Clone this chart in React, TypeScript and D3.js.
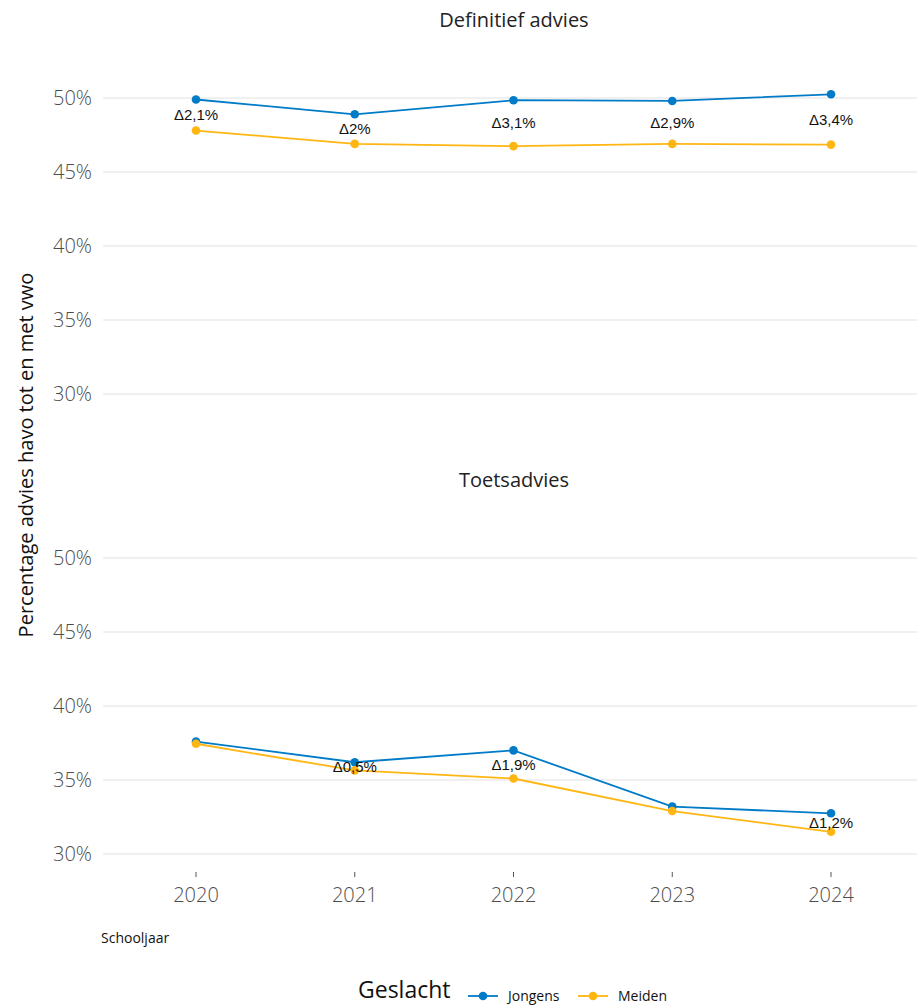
import React from "react";
import * as d3 from "d3";

const years = ["2020", "2021", "2022", "2023", "2024"];
const panels = ["Definitief advies", "Toetsadvies"];
const jongensDef = [49.9, 48.9, 49.85, 49.8, 50.25];
const meidenDef = [47.8, 46.9, 46.75, 46.9, 46.85];
const jongensToets = [37.6, 36.2, 37.0, 33.2, 32.75];
const meidenToets = [37.45, 35.65, 35.1, 32.9, 31.5];
const labelsDef = ["Δ2,1%", "Δ2%", "Δ3,1%", "Δ2,9%", "Δ3,4%"];
const labelsToets = ["", "Δ0,5%", "Δ1,9%", "", "Δ1,2%"];
const yTicks = [30, 35, 40, 45, 50];
const seriesNames = ["Jongens", "Meiden"];
const colors = ["#007bc7", "#ffb612"];

const W = 917;
const H = 1008;
const tickFont = "'Open Sans', Lato, sans-serif";

export default function App() {
  const x = d3.scalePoint<string>().domain(years).range([196, 831]);
  const panelData = [
    { title: panels[0], top: 98, j: jongensDef, m: meidenDef, labels: labelsDef, titleY: 27 },
    { title: panels[1], top: 558, j: jongensToets, m: meidenToets, labels: labelsToets, titleY: 487 },
  ];
  return (
    <svg width={W} height={H} style={{ display: "block", position: "absolute", left: 0, top: 0 }}>
      <rect width={W} height={H} fill="#fff" />
      {panelData.map((p, pi) => {
        const y = d3.scaleLinear().domain([30, 50]).range([p.top + 296, p.top]);
        const line = d3
          .line<number>()
          .x((_, i) => x(years[i])!)
          .y((d) => y(d));
        return (
          <g key={pi}>
            <text x={514} y={p.titleY} textAnchor="middle" fontFamily={tickFont} fontSize={20} fill="#222">
              {p.title}
            </text>
            {yTicks.map((t) => (
              <g key={t}>
                <line x1={103} x2={W} y1={y(t)} y2={y(t)} stroke="#ebebeb" strokeWidth={1.6} />
                <text x={92} y={y(t)} dy="0.35em" textAnchor="end" fontFamily={tickFont} fontSize={20} fill="#4d4d4d" fontWeight={300}>
                  {t}%
                </text>
              </g>
            ))}
            {[p.j, p.m].map((s, si) => (
              <g key={si}>
                <path d={line(s)!} fill="none" stroke={colors[si]} strokeWidth={1.8} />
                {s.map((v, i) => (
                  <circle key={i} cx={x(years[i])!} cy={y(v)} r={4.3} fill={colors[si]} />
                ))}
              </g>
            ))}
            {p.labels.map((l, i) =>
              l ? (
                <text
                  key={i}
                  x={x(years[i])!}
                  y={y((p.j[i] + p.m[i]) / 2)}
                  dy="0.35em"
                  textAnchor="middle"
                  fontFamily="'Liberation Sans', Arial, sans-serif"
                  fontSize={15}
                  fill="#111"
                >
                  {l}
                </text>
              ) : null
            )}
          </g>
        );
      })}
      {years.map((yr) => (
        <g key={yr}>
          <line x1={x(yr)!} x2={x(yr)!} y1={872} y2={877} stroke="#555" strokeWidth={1} />
          <text x={x(yr)!} y={895} dy="0.35em" textAnchor="middle" fontFamily={tickFont} fontSize={20} fill="#4d4d4d" fontWeight={300}>
            {yr}
          </text>
        </g>
      ))}
      <text x={101} y={938} dy="0.35em" fontFamily={tickFont} fontSize={14} fill="#111">
        Schooljaar
      </text>
      <text
        transform="translate(33,455) rotate(-90)"
        textAnchor="middle"
        fontFamily={tickFont}
        fontSize={20}
        fill="#111"
      >
        Percentage advies havo tot en met vwo
      </text>
      <text x={358} y={990} dy="0.35em" fontFamily={tickFont} fontSize={23} fill="#111">
        Geslacht
      </text>
      {seriesNames.map((n, i) => {
        const lx = 468 + i * 110;
        return (
          <g key={n}>
            <line x1={lx} x2={lx + 30} y1={996} y2={996} stroke={colors[i]} strokeWidth={1.8} />
            <circle cx={lx + 15} cy={996} r={4.3} fill={colors[i]} />
            <text x={lx + 40} y={996} dy="0.35em" fontFamily={tickFont} fontSize={14} fill="#111">
              {n}
            </text>
          </g>
        );
      })}
    </svg>
  );
}
